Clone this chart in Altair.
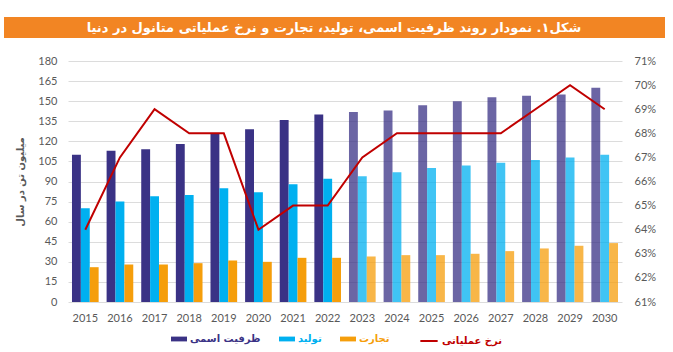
import altair as alt
import pandas as pd

years = [str(y) for y in range(2015, 2031)]
capacity = [110, 113, 114, 118, 126, 129, 136, 140, 142, 143, 147, 150, 153, 154, 155, 160]
production = [70, 75, 79, 80, 85, 82, 88, 92, 94, 97, 100, 102, 104, 106, 108, 110]
trade = [26, 28, 28, 29, 31, 30, 33, 33, 34, 35, 35, 36, 38, 40, 42, 44]
utilization = [64, 67, 69, 68, 68, 64, 65, 65, 67, 68, 68, 68, 68, 69, 70, 69]

series_names = ["ظرفیت اسمی", "تولید", "تجارت"]
series_colors = ["#3A3285", "#00B0F0", "#F59E0B"]
line_name = "نرخ عملیاتی"
line_color = "#C00000"
title_text = "شکل۱. نمودار روند ظرفیت اسمی، تولید، تجارت و نرخ عملیاتی متانول در دنیا"
y_title = "میلیون تن در سال"
first_projected = 2023

rows = []
for i, y in enumerate(years):
    for name, vals in zip(series_names, [capacity, production, trade]):
        rows.append({"year": y, "series": name, "value": vals[i],
                     "projected": int(y) >= first_projected})
bars_df = pd.DataFrame(rows)
line_df = pd.DataFrame({"year": years, "rate": utilization, "name": line_name})

AX_FONT = "Lato"
FA_FONT = "DejaVu Sans"
GRAY = "#595959"

x_enc = alt.X("year:N", sort=years,
              scale=alt.Scale(paddingInner=0.23, paddingOuter=0.115),
              axis=alt.Axis(title=None, labelAngle=0, domain=False, ticks=False,
                            labelFont=AX_FONT, labelFontSize=11, labelColor=GRAY,
                            labelPadding=10))

label_color_expr = ("datum.label == '" + series_names[1] + "' ? '" + series_colors[1] + "' : "
                    "datum.label == '" + series_names[2] + "' ? '" + series_colors[2] + "' : '"
                    + series_colors[0] + "'")

bars = alt.Chart(bars_df).mark_bar().encode(
    x=x_enc,
    xOffset=alt.XOffset("series:N", sort=series_names, scale=alt.Scale(paddingInner=0, paddingOuter=0)),
    y=alt.Y("value:Q", scale=alt.Scale(domain=[0, 180], nice=False),
            axis=alt.Axis(values=list(range(0, 181, 15)), title=y_title,
                          titleFont=FA_FONT, titleFontSize=10, titleColor=GRAY,
                          titleFontWeight="bold", titlePadding=12,
                          labelFont=AX_FONT, labelFontSize=11, labelColor=GRAY,
                          labelPadding=11, domain=False, ticks=False,
                          grid=True, gridColor="#DCDCDC", gridWidth=1)),
    color=alt.Color("series:N", sort=series_names,
                    scale=alt.Scale(domain=series_names, range=series_colors),
                    legend=alt.Legend(orient="none", legendX=103, legendY=270,
                                      direction="horizontal", title=None,
                                      symbolType="M-1,-0.3L1,-0.3L1,0.3L-1,0.3Z",
                                      symbolSize=256, symbolStrokeWidth=0,
                                      labelFont=FA_FONT, labelFontSize=10,
                                      labelFontWeight="bold",
                                      labelColor={"expr": label_color_expr},
                                      labelOffset=3, columnPadding=18)),
    opacity=alt.condition("datum.projected", alt.value(0.75), alt.value(1.0)),
)

line = alt.Chart(line_df).mark_line(strokeWidth=2).encode(
    x=x_enc,
    y=alt.Y("rate:Q", scale=alt.Scale(domain=[61, 71], nice=False),
            axis=alt.Axis(orient="right", values=list(range(61, 72)), title=None,
                          labelExpr="datum.value + '%'", labelFont=AX_FONT,
                          labelFontSize=11, labelColor=GRAY, labelPadding=12,
                          domain=False, ticks=False, grid=False)),
    stroke=alt.Stroke("name:N", scale=alt.Scale(domain=[line_name], range=[line_color]),
                      legend=alt.Legend(orient="none", legendX=351, legendY=270,
                                        direction="horizontal", title=None,
                                        symbolType="stroke", symbolSize=300,
                                        symbolStrokeWidth=2,
                                        labelFont=FA_FONT, labelFontSize=10,
                                        labelFontWeight="bold", labelColor=line_color,
                                        labelOffset=3)),
)

deco = alt.Data(values=[{"k": 1}])
title_bar = alt.Chart(deco).mark_rect(color="#F28523", clip=False).encode(
    x=alt.value(-64), x2=alt.value(597), y=alt.value(-44), y2=alt.value(-23))
title_txt = alt.Chart(deco).mark_text(
    color="white", font=FA_FONT, fontSize=13, fontWeight="bold",
    align="center", baseline="middle", clip=False).encode(
    x=alt.value(266), y=alt.value(-33), text=alt.value(title_text))

chart = alt.layer(bars, line, title_bar, title_txt).resolve_scale(
    y="independent"
).properties(
    width=554, height=241,
    padding={"left": 68, "top": 61, "right": 51, "bottom": 50},
    autosize=alt.AutoSizeParams(type="none"),
    background="white",
).configure_view(stroke=None)

chart.save("out.html", embed_options={"renderer": "svg", "actions": False})
